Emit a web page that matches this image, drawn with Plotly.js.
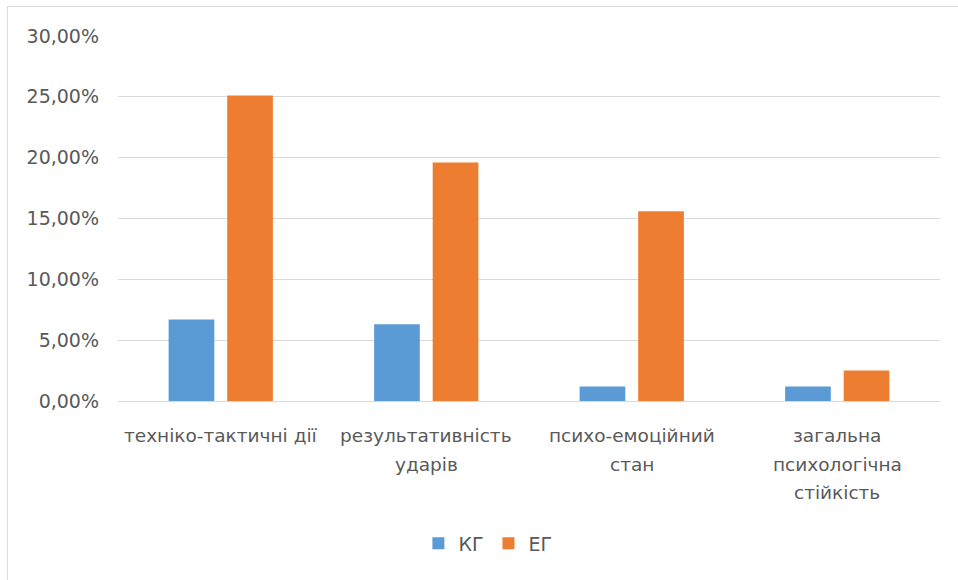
<!DOCTYPE html>
<html>
<head>
<meta charset="utf-8">
<script src="https://cdn.plot.ly/plotly-3.0.1.min.js"></script>
<style>
  html, body { margin: 0; padding: 0; background: #ffffff; }
  #wrap { position: relative; width: 958px; height: 580px; overflow: hidden; }
  #chart { position: absolute; left: 0; top: 0; width: 958px; height: 580px; }
  #frame { position: absolute; left: 7px; top: 6px; width: 1000px; height: 700px;
           border-left: 1px solid #d9d9d9; border-top: 1px solid #d9d9d9; pointer-events: none; }
</style>
</head>
<body>
<div id="wrap">
  <div id="chart"></div>
  <div id="frame"></div>
</div>
<script>
// ---- data ----
var categories = ['техніко-тактичні дії', 'результативність\nударів', 'психо-емоційний\nстан', 'загальна\nпсихологічна\nстійкість'];
var seriesNames = ['КГ', 'ЕГ'];
var kgValues = [0.067, 0.063, 0.012, 0.012];
var egValues = [0.251, 0.196, 0.156, 0.025];
var yTickValues = [0, 0.05, 0.10, 0.15, 0.20, 0.25, 0.30];

var FONT = 'DejaVu Sans, Open Sans, sans-serif';
var TXT = '#595959';

var traces = [
  { type: 'bar', name: seriesNames[0], x: categories, y: kgValues,
    marker: { color: '#5B9BD5' }, hoverinfo: 'y' },
  { type: 'bar', name: seriesNames[1], x: categories, y: egValues,
    marker: { color: '#ED7D31' }, hoverinfo: 'y' }
];

// category labels as separate lines so the line spacing matches the reference
var annotations = [];
var lineStep = 28.5;
categories.forEach(function (cat) {
  cat.split('\n').forEach(function (line, i) {
    annotations.push({
      x: cat, xref: 'x', y: 0, yref: 'paper',
      text: line, showarrow: false,
      xanchor: 'center', yanchor: 'middle',
      yshift: -(34.5 + i * lineStep),
      font: { family: FONT, size: 18.5, color: TXT }
    });
  });
});

var layout = {
  width: 958, height: 580,
  margin: { l: 118, r: 18, t: 36, b: 178.5, pad: 0 },
  paper_bgcolor: '#ffffff', plot_bgcolor: '#ffffff',
  separators: ', ',
  barmode: 'group', bargap: 0.43, bargroupgap: 0.22,
  font: { family: FONT, size: 19, color: TXT },
  xaxis: {
    type: 'category', showticklabels: false, showgrid: false,
    zeroline: false, showline: false, ticks: ''
  },
  yaxis: {
    range: [0, 0.30], tickvals: yTickValues, tickformat: '.2%',
    showgrid: true, gridcolor: '#d9d9d9', gridwidth: 1,
    zeroline: true, zerolinecolor: '#d9d9d9', zerolinewidth: 1,
    showline: false, ticks: '', ticklabelstandoff: 18,
    tickfont: { family: FONT, size: 19, color: TXT }
  },
  showlegend: true,
  legend: {
    orientation: 'h', x: 0.45, xanchor: 'center', y: -0.39, yanchor: 'middle',
    font: { family: FONT, size: 19, color: TXT },
    itemwidth: 30, traceorder: 'normal', bgcolor: 'rgba(0,0,0,0)'
  },
  annotations: annotations
};

Plotly.newPlot('chart', traces, layout, { displayModeBar: false, staticPlot: true });
</script>
</body>
</html>
